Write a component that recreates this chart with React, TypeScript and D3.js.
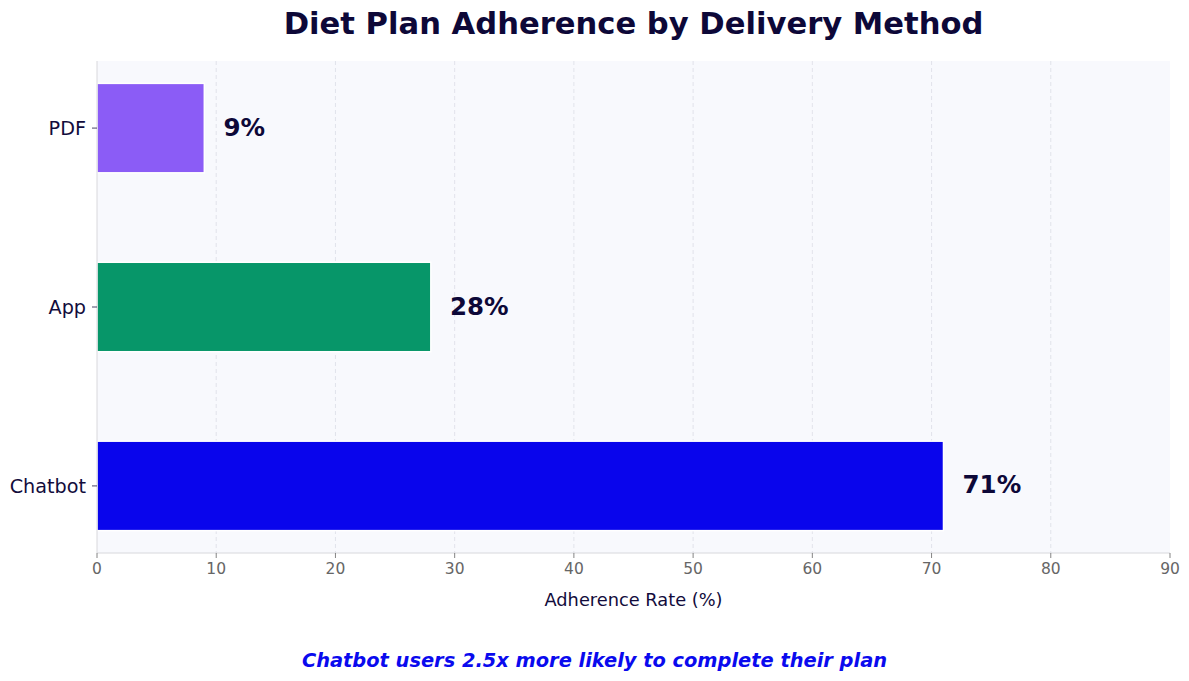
import React from "react";
import * as d3 from "d3";

const categories = ["Chatbot", "App", "PDF"];
const adherence = [71, 28, 9];
const barColors = ["#0905ec", "#079669", "#8b5cf6"];
const xTicks = [0, 10, 20, 30, 40, 50, 60, 70, 80, 90];

const W = 1189;
const H = 681;
const margin = { left: 97, right: 19, top: 61, bottom: 128 };
const FONT = "'DejaVu Sans', sans-serif";

export default function App() {
  const x = d3.scaleLinear().domain([0, 90]).range([margin.left, W - margin.right]);
  const y = d3.scaleLinear().domain([-0.375, 2.375]).range([H - margin.bottom, margin.top]);
  const barH = y(0) - y(0.5);
  const plotCx = (margin.left + W - margin.right) / 2;
  const bottom = H - margin.bottom;

  return (
    <svg width={W} height={H} style={{ display: "block", position: "absolute", left: 0, top: 0 }}>
      <rect width={W} height={H} fill="#ffffff" />
      <rect
        x={margin.left}
        y={margin.top}
        width={W - margin.right - margin.left}
        height={bottom - margin.top}
        fill="#f8f9fd"
      />
      {/* grid */}
      {xTicks.slice(1, -1).map((t) => (
        <line
          key={"g" + t}
          x1={x(t)}
          x2={x(t)}
          y1={margin.top}
          y2={bottom}
          stroke="#dcdde6"
          strokeWidth={0.8}
          strokeDasharray="4,3"
        />
      ))}
      {/* bars */}
      {categories.map((c, i) => (
        <rect
          key={c}
          x={x(0)}
          y={y(i) - barH / 2}
          width={x(adherence[i]) - x(0)}
          height={barH}
          fill={barColors[i]}
          stroke="#ffffff"
          strokeWidth={1.5}
        />
      ))}
      {/* value labels */}
      {categories.map((c, i) => (
        <text
          key={"v" + c}
          x={x(adherence[i] + 1.6)}
          y={y(i) - 1}
          dy="0.35em"
          fontFamily={FONT}
          fontWeight="bold"
          fontSize={24.5}
          fill="#0d0838"
        >
          {adherence[i]}%
        </text>
      ))}
      {/* spines */}
      <line x1={margin.left} x2={margin.left} y1={margin.top} y2={bottom} stroke="#d8d8dc" strokeWidth={1} />
      <line x1={margin.left} x2={W - margin.right} y1={bottom} y2={bottom} stroke="#d8d8dc" strokeWidth={1} />
      {/* x ticks */}
      {xTicks.map((t) => (
        <g key={"t" + t}>
          <line x1={x(t)} x2={x(t)} y1={bottom} y2={bottom + 5} stroke="#666" strokeWidth={0.8} />
          <text
            x={x(t)}
            y={bottom + 21}
            textAnchor="middle"
            fontFamily={FONT}
            fontSize={15.5}
            fill="#666666"
          >
            {t}
          </text>
        </g>
      ))}
      {/* y ticks */}
      {categories.map((c, i) => (
        <g key={"y" + c}>
          <line x1={margin.left - 5} x2={margin.left} y1={y(i)} y2={y(i)} stroke="#1a1440" strokeWidth={0.8} />
          <text
            x={margin.left - 11}
            y={y(i)}
            dy="0.35em"
            textAnchor="end"
            fontFamily={FONT}
            fontSize={19.2}
            fill="#120c3c"
          >
            {c}
          </text>
        </g>
      ))}
      <text
        x={plotCx}
        y={606}
        textAnchor="middle"
        fontFamily={FONT}
        fontSize={17.8}
        fill="#120c3c"
      >
        Adherence Rate (%)
      </text>
      <text
        x={plotCx}
        y={34}
        textAnchor="middle"
        fontFamily={FONT}
        fontWeight="bold"
        fontSize={30.6}
        fill="#0d0838"
      >
        Diet Plan Adherence by Delivery Method
      </text>
      <text
        x={W / 2}
        y={667}
        textAnchor="middle"
        fontFamily={FONT}
        fontWeight="bold"
        fontStyle="italic"
        fontSize={19.4}
        fill="#0a0aee"
      >
        Chatbot users 2.5x more likely to complete their plan
      </text>
    </svg>
  );
}
